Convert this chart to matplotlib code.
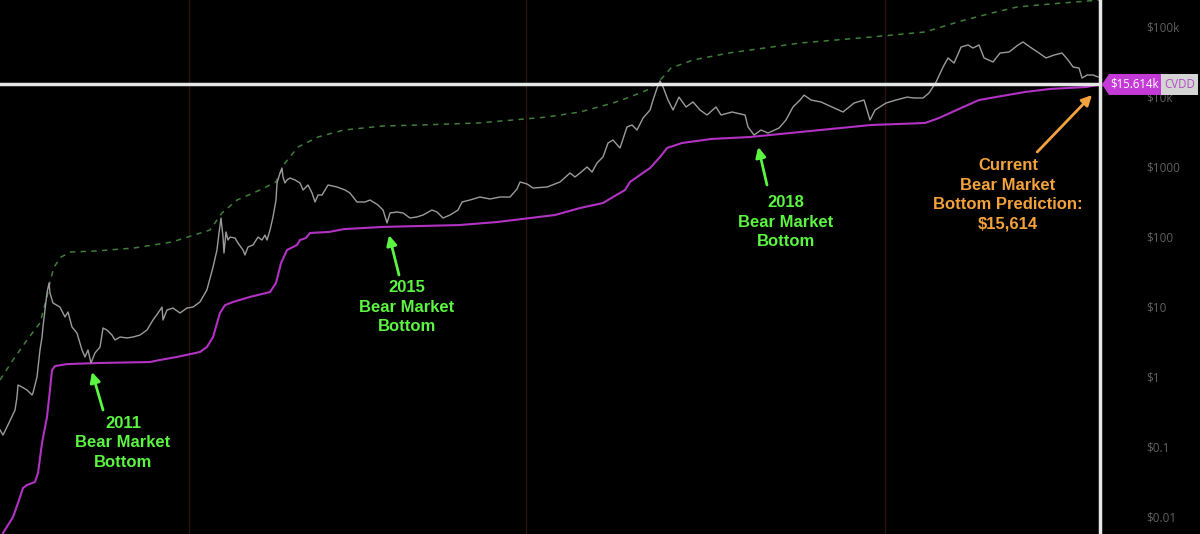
import matplotlib
matplotlib.use("Agg")
import matplotlib.pyplot as plt
import matplotlib.transforms as mtransforms
from matplotlib.patches import Polygon, Rectangle

# BTC price, decimal year vs USD
price_years = [2010.885, 2010.917, 2010.96, 2011.01, 2011.046, 2011.067, 2011.078, 2011.12, 2011.174, 2011.228,
               2011.238, 2011.281, 2011.313, 2011.335, 2011.345, 2011.388, 2011.41, 2011.42, 2011.452, 2011.527,
               2011.581, 2011.613, 2011.656, 2011.709, 2011.763, 2011.795, 2011.827, 2011.859, 2011.902, 2011.956,
               2011.988, 2012.03, 2012.084, 2012.116, 2012.17, 2012.245, 2012.309, 2012.384, 2012.459, 2012.523,
               2012.577, 2012.62, 2012.63, 2012.673, 2012.737, 2012.812, 2012.887, 2012.951, 2013.026, 2013.1,
               2013.166, 2013.208, 2013.23, 2013.251, 2013.273, 2013.283, 2013.305, 2013.326, 2013.348, 2013.401,
               2013.433, 2013.487, 2013.508, 2013.54, 2013.594, 2013.647, 2013.69, 2013.722, 2013.744, 2013.776,
               2013.808, 2013.84, 2013.851, 2013.883, 2013.904, 2013.915, 2013.936, 2013.958, 2013.99, 2014.044,
               2014.097, 2014.13, 2014.183, 2014.226, 2014.258, 2014.29, 2014.333, 2014.397, 2014.493, 2014.579,
               2014.632, 2014.707, 2014.793, 2014.847, 2014.932, 2014.986, 2015.029, 2015.061, 2015.136, 2015.2,
               2015.275, 2015.35, 2015.414, 2015.51, 2015.564, 2015.628, 2015.703, 2015.789, 2015.832, 2015.917,
               2016.024, 2016.131, 2016.239, 2016.346, 2016.42, 2016.453, 2016.528, 2016.592, 2016.742, 2016.881,
               2016.988, 2017.041, 2017.095, 2017.17, 2017.224, 2017.277, 2017.341, 2017.395, 2017.448, 2017.523,
               2017.598, 2017.652, 2017.705, 2017.77, 2017.845, 2017.877, 2017.92, 2017.952, 2017.984, 2018.037,
               2018.091, 2018.155, 2018.23, 2018.305, 2018.38, 2018.455, 2018.551, 2018.605, 2018.723, 2018.862,
               2018.894, 2018.958, 2019.033, 2019.108, 2019.226, 2019.3, 2019.375, 2019.451, 2019.494, 2019.568,
               2019.675, 2019.793, 2019.911, 2020.029, 2020.136, 2020.2, 2020.254, 2020.372, 2020.479, 2020.597,
               2020.671, 2020.767, 2020.832, 2020.907, 2020.982, 2021.035, 2021.1, 2021.175, 2021.25, 2021.303,
               2021.367, 2021.421, 2021.517, 2021.592, 2021.689, 2021.785, 2021.838, 2021.913, 2022.01, 2022.085,
               2022.17, 2022.256, 2022.32, 2022.374, 2022.438, 2022.47, 2022.524, 2022.588, 2022.641]
price_values = [0.181, 0.153, 0.20, 0.277, 0.349, 0.535, 0.794, 0.743, 0.674, 0.572,
                0.61, 1.03, 2.51, 3.85, 5.35, 16.4, 22.8, 16.4, 11.8, 10.3,
                7.44, 8.77, 5.35, 4.39, 2.51, 2.0, 2.51, 1.64, 2.28, 2.77,
                5.18, 4.85, 4.11, 3.49, 3.85, 3.73, 3.85, 4.11, 4.85, 6.74,
                8.48, 10.3, 6.74, 9.36, 10.0, 8.48, 10.0, 10.3, 12.2, 18.1,
                38.5, 67.4, 118, 193, 103, 61, 122, 93.6, 103, 100,
                84.8, 67.4, 57.2, 74.4, 79.4, 103, 93.6, 110, 93.6, 130,
                200, 349, 611, 848, 1000, 744, 611, 674, 720, 674,
                611, 485, 572, 439, 327, 411, 411, 572, 535, 485,
                439, 327, 327, 349, 296, 251, 164, 228, 235, 228,
                193, 200, 213, 251, 235, 193, 213, 251, 327, 349,
                385, 361, 385, 385, 501, 631, 591, 518, 535, 631,
                848, 744, 848, 1033, 877, 1179, 1437, 2276, 2512, 1931,
                3853, 4115, 3490, 5180, 6740, 9360, 13900, 17500, 14400, 9360,
                6740, 10300, 7440, 8770, 6740, 5720, 7440, 5720, 6310, 5720,
                3853, 2960, 3490, 3160, 3730, 4850, 7440, 9360, 11000, 9360,
                8770, 7440, 6310, 8480, 9360, 4850, 6740, 8480, 9360, 10300,
                10000, 10000, 11800, 16900, 27700, 37300, 31600, 53500, 57200, 51800,
                57200, 37300, 32700, 43900, 45400, 57200, 63100, 53500, 43900, 37300,
                41100, 43900, 34900, 27700, 26800, 19300, 21300, 21300, 20000]

# CVDD (magenta)
cvdd_years = [2010.885, 2010.917, 2011.024, 2011.078, 2011.131, 2011.174, 2011.26, 2011.292, 2011.335, 2011.388,
              2011.42, 2011.442, 2011.474, 2011.602, 2011.956, 2012.491, 2012.598, 2012.78, 2013.026, 2013.1,
              2013.166, 2013.24, 2013.294, 2013.38, 2013.562, 2013.776, 2013.84, 2013.894, 2013.958, 2014.065,
              2014.097, 2014.161, 2014.204, 2014.408, 2014.568, 2014.986, 2015.8, 2016.206, 2016.827, 2017.095,
              2017.341, 2017.448, 2017.577, 2017.63, 2017.737, 2017.845, 2017.952, 2018.027, 2018.187, 2018.5,
              2018.915, 2019.451, 2020.211, 2020.789, 2020.939, 2021.175, 2021.367, 2021.549, 2021.86, 2022.127,
              2022.513, 2022.663]
cvdd_values = [0.0041, 0.0061, 0.0103, 0.0164, 0.0268, 0.0296, 0.0327, 0.044, 0.118, 0.277,
               0.674, 1.30, 1.48, 1.58, 1.64, 1.69, 1.81, 2.0, 2.35, 2.77,
               3.85, 8.48, 11.0, 12.2, 14.4, 16.9, 22.8, 43.9, 67.4, 79.4,
               93.6, 100, 118, 122, 134, 144, 153, 169, 213, 268,
               316, 385, 485, 631, 794, 1000, 1437, 1931, 2276, 2597,
               2772, 3266, 4115, 4394, 5180, 7197, 9360, 10330, 12190, 13460,
               14350, 15614]

# green dashed upper band
top_years = [2010.885, 2011.024, 2011.174, 2011.313, 2011.388, 2011.42, 2011.463, 2011.538, 2011.645, 2011.913,
             2012.32, 2012.727, 2013.133, 2013.262, 2013.423, 2013.669, 2013.84, 2013.936, 2014.076, 2014.29,
             2014.568, 2014.986, 2015.393, 2016.003, 2016.378, 2016.742, 2017.095, 2017.448, 2017.63, 2017.813,
             2017.92, 2017.984, 2018.069, 2018.305, 2018.69, 2019.451, 2020.211, 2020.789, 2021.175, 2021.549,
             2021.774, 2022.127, 2022.663]
top_values = [0.936, 1.81, 3.49, 6.11, 14.4, 23.5, 38.5, 53.5, 63.1, 65.2,
              72, 87.7, 130, 228, 349, 485, 631, 1179, 1995, 2772,
              3490, 3981, 4115, 4394, 4850, 5350, 6310, 8480, 10330, 13000,
              16380, 19950, 26830, 34900, 43940, 61050, 74300, 87700, 125900, 169300,
              199500, 220300, 251200]

halving_years = [2012.91, 2016.52, 2020.36]

tick_values = [1e5, 1e4, 1e3, 100, 10, 1, 0.1, 0.01]
tick_labels = ["$100k", "$10k", "$1000", "$100", "$10", "$1", "$0.1", "$0.01"]

cvdd_now = 15614
cursor_year = 2022.663

GREEN = "#5cf542"
ORANGE = "#f4a23c"
MAGENTA = "#b232c4"
LABEL_MAGENTA = "#c43ad6"

W, H = 1200, 534
fig = plt.figure(figsize=(W / 100, H / 100), dpi=100, facecolor="black")
ax = fig.add_axes([0, 0, 1, 1])
ax.set_facecolor("black")
ax.set_yscale("log")
ax.set_xlim(2010.885, 2023.733)
ax.set_ylim(10 ** -2.2286, 10 ** 5.4)
ax.axis("off")

for h in halving_years:
    ax.axvline(h, color="#2c1212", lw=1, zorder=1)

ax.plot(top_years, top_values, color="#3f7f3a", lw=1.1, ls=(0, (3.5, 3.5)), zorder=2)
ax.plot(cvdd_years, cvdd_values, color=MAGENTA, lw=1.5, zorder=3)
ax.plot(price_years, price_values, color="#9c9c9c", lw=1.0, zorder=4)

# crosshair
ax.axhline(cvdd_now, xmax=1100 / W, color="#e6e6e6", lw=2.5, zorder=5)
ax.axvline(cursor_year, color="#e6e6e6", lw=2.5, zorder=5)

# right price scale
ytrans = mtransforms.blended_transform_factory(ax.transAxes, ax.transData)
for v, lab in zip(tick_values, tick_labels):
    ax.text(1146 / W, v, lab, transform=ytrans, color="#606060", fontsize=8.5,
            ha="left", va="center", family="Open Sans", zorder=6)

# CVDD value label (boxes sized in pixels, centred on the CVDD value)
yf = ax.transAxes.inverted().transform(ax.transData.transform((cursor_year, cvdd_now)))[1]
hh = 10.5 / H
tag = Polygon([(1102 / W, yf), (1109 / W, yf + hh), (1161 / W, yf + hh),
               (1161 / W, yf - hh), (1109 / W, yf - hh)],
              closed=True, transform=ax.transAxes, fc=LABEL_MAGENTA, ec="none", zorder=7)
ax.add_patch(tag)
ax.add_patch(Rectangle((1161 / W, yf - hh), 37 / W, 2 * hh, transform=ax.transAxes,
                       fc="#d4d4d4", ec="none", zorder=7))
ax.text(1135 / W, yf, "$15.614k", transform=ax.transAxes, color="white", fontsize=8.3,
        ha="center", va="center", family="Open Sans", zorder=8)
ax.text(1179.5 / W, yf, "CVDD", transform=ax.transAxes, color="#b04cc4", fontsize=8.3,
        ha="center", va="center", family="Open Sans", zorder=8)

# annotations
txt = dict(fontsize=12, fontweight="bold", family="Liberation Sans", ha="center",
           va="center", linespacing=1.38, zorder=9)

def arrow(head, tail, color):
    ax.annotate("", xy=head, xytext=tail, zorder=9,
                arrowprops=dict(arrowstyle="-|>", color=color, lw=2, mutation_scale=15,
                                shrinkA=0, shrinkB=0))

ax.text(2012.202, 0.118, "2011\nBear Market\nBottom", color=GREEN, **txt)
arrow((2011.87, 1.22), (2011.988, 0.349), GREEN)

ax.text(2015.243, 10.3, "2015\nBear Market\nBottom", color=GREEN, **txt)
arrow((2015.05, 110), (2015.157, 29.6), GREEN)

ax.text(2019.3, 169, "2018\nBear Market\nBottom", color=GREEN, **txt)
arrow((2019.003, 1995), (2019.097, 572), GREEN)

ax.text(2021.678, 411, "Current\nBear Market\nBottom Prediction:\n$15,614", color=ORANGE, **txt)
arrow((2022.577, 11040), (2021.99, 1693), ORANGE)

fig.savefig("out.png", dpi=100, facecolor="black")
